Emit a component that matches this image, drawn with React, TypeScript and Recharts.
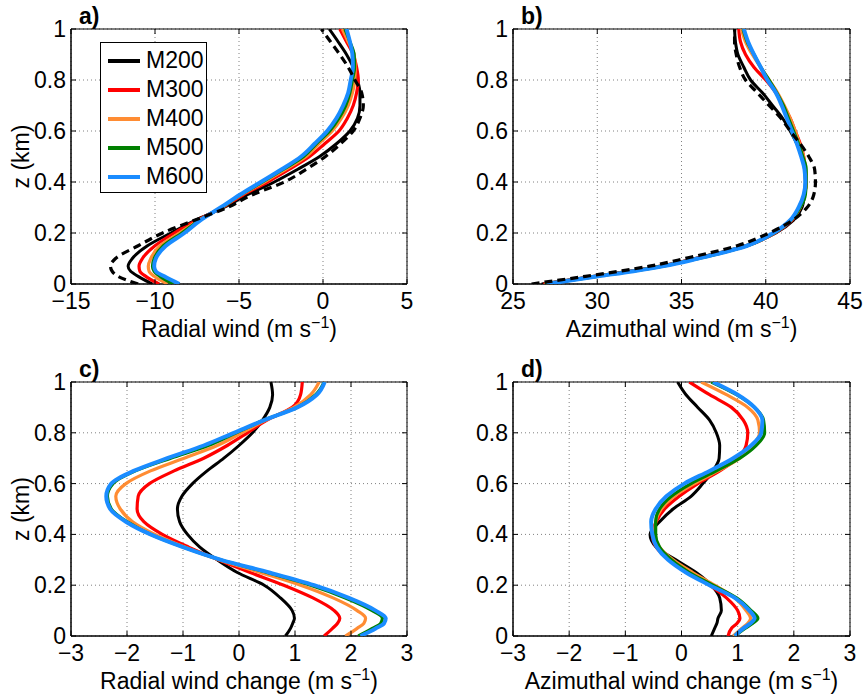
import React from 'react';
import { ScatterChart, Scatter, XAxis, YAxis, CartesianGrid, Legend, ReferenceArea } from 'recharts';

// heights (km) shared by every profile
const Z = [0, 0.03, 0.05, 0.07, 0.1, 0.15, 0.2, 0.25, 0.3, 0.35, 0.4, 0.45, 0.5, 0.55, 0.6, 0.65, 0.7, 0.75, 0.8, 0.85, 0.9, 0.95, 1];

const SERIES_NAMES = ['M200', 'M300', 'M400', 'M500', 'M600'];
const SERIES_COLORS = ['#000000', '#ff0000', '#ff8c33', '#008000', '#1a8cff'];
const SERIES_WIDTHS = [3, 3.2, 3.2, 3.2, 4];

// a) radial wind
const radialCtl = [-11.0, -12.2, -12.55, -12.65, -12.35, -11.0, -9.55, -7.65, -5.7, -4.2, -2.3, -1.0, 0.15, 1.05, 1.8, 2.2, 2.4, 2.3, 1.9, 1.5, 1.0, 0.45, -0.1];
const radialM200 = [-10.15, -11.0, -11.45, -11.6, -11.35, -10.45, -9.05, -7.6, -5.9, -4.5, -2.9, -1.5, -0.2, 0.8, 1.6, 2.05, 2.2, 2.2, 2.05, 1.8, 1.4, 0.9, 0.37];
const radialM300 = [-9.75, -10.55, -10.9, -10.95, -10.75, -10.0, -8.85, -7.5, -6.0, -4.75, -3.3, -2.0, -0.8, 0.1, 0.95, 1.45, 1.8, 2.0, 2.1, 2.0, 1.8, 1.4, 1.0];
const radialM400 = [-9.25, -10.05, -10.35, -10.4, -10.25, -9.7, -8.55, -7.4, -6.05, -4.85, -3.5, -2.2, -1.0, -0.25, 0.55, 1.1, 1.5, 1.75, 1.9, 1.92, 1.85, 1.5, 1.15];
const radialM500 = [-8.9, -9.7, -10.05, -10.15, -10.05, -9.5, -8.4, -7.35, -6.05, -4.9, -3.6, -2.35, -1.15, -0.4, 0.4, 0.95, 1.35, 1.6, 1.75, 1.88, 1.85, 1.6, 1.3];
const radialM600 = [-8.55, -9.45, -9.95, -10.05, -9.95, -9.35, -8.25, -7.3, -6.1, -4.95, -3.7, -2.45, -1.3, -0.5, 0.25, 0.8, 1.2, 1.5, 1.65, 1.78, 1.75, 1.6, 1.4];

// b) azimuthal wind
const azimCtl = [26.1, 29.3, 31.3, 33.1, 35.2, 38.3, 40.2, 41.6, 42.45, 42.85, 42.95, 42.9, 42.55, 42.05, 41.45, 40.9, 40.2, 39.5, 38.8, 38.45, 38.25, 38.15, 38.15];
const azimM200 = [26.7, 29.8, 31.9, 33.7, 35.8, 38.8, 40.6, 41.65, 42.15, 42.3, 42.35, 42.3, 42.2, 41.85, 41.45, 41.0, 40.4, 39.8, 39.1, 38.7, 38.35, 38.2, 38.15];
const azimM300 = [26.8, 29.9, 32.0, 33.8, 35.9, 38.9, 40.55, 41.55, 42.05, 42.3, 42.4, 42.35, 42.25, 42.05, 41.75, 41.45, 41.05, 40.6, 40.0, 39.3, 38.8, 38.5, 38.4];
const azimM400 = [26.85, 29.95, 32.05, 33.85, 35.95, 38.9, 40.5, 41.5, 42.05, 42.3, 42.4, 42.35, 42.25, 42.0, 41.75, 41.45, 41.1, 40.7, 40.2, 39.7, 39.2, 38.8, 38.55];
const azimM500 = [26.9, 30.0, 32.1, 33.9, 36.0, 38.9, 40.5, 41.5, 42.05, 42.35, 42.4, 42.4, 42.2, 41.95, 41.65, 41.35, 41.05, 40.65, 40.2, 39.7, 39.3, 38.9, 38.65];
const azimM600 = [27.0, 30.05, 32.15, 33.95, 36.0, 38.9, 40.45, 41.45, 41.95, 42.25, 42.35, 42.3, 42.1, 41.85, 41.55, 41.25, 40.95, 40.6, 40.1, 39.7, 39.3, 38.95, 38.7];

// c) radial wind change
const dRadM200 = [0.83, 0.92, 0.96, 0.99, 0.95, 0.74, 0.45, -0.03, -0.39, -0.7, -0.92, -1.06, -1.1, -1.02, -0.83, -0.57, -0.27, 0.0, 0.24, 0.42, 0.55, 0.6, 0.57];
const dRadM300 = [1.52, 1.67, 1.76, 1.8, 1.7, 1.32, 0.8, 0.2, -0.37, -0.9, -1.37, -1.7, -1.82, -1.8, -1.6, -1.16, -0.63, -0.21, 0.15, 0.5, 0.95, 1.1, 1.13];
const dRadM400 = [1.9, 2.11, 2.23, 2.26, 2.11, 1.68, 1.1, 0.38, -0.36, -0.97, -1.5, -1.9, -2.12, -2.2, -2.02, -1.58, -0.98, -0.39, 0.05, 0.48, 0.98, 1.28, 1.43];
const dRadM500 = [2.13, 2.38, 2.53, 2.56, 2.38, 1.9, 1.28, 0.5, -0.33, -1.0, -1.58, -2.0, -2.28, -2.35, -2.25, -1.85, -1.22, -0.55, -0.05, 0.45, 1.04, 1.37, 1.52];
const dRadM600 = [2.17, 2.44, 2.59, 2.62, 2.44, 1.96, 1.34, 0.54, -0.32, -1.0, -1.58, -2.02, -2.3, -2.37, -2.28, -1.88, -1.28, -0.63, -0.09, 0.45, 1.04, 1.39, 1.53];

// d) azimuthal wind change
const dAzM200 = [0.53, 0.59, 0.63, 0.65, 0.71, 0.68, 0.53, 0.26, -0.1, -0.45, -0.56, -0.39, -0.15, 0.17, 0.38, 0.56, 0.67, 0.68, 0.62, 0.5, 0.29, 0.08, -0.07];
const dAzM300 = [0.83, 0.89, 0.99, 1.04, 1.0, 0.8, 0.5, 0.14, -0.21, -0.45, -0.52, -0.45, -0.3, -0.04, 0.29, 0.68, 1.0, 1.15, 1.18, 1.1, 0.89, 0.5, 0.14];
const dAzM400 = [0.92, 1.07, 1.18, 1.23, 1.15, 0.95, 0.59, 0.2, -0.15, -0.39, -0.48, -0.46, -0.36, -0.13, 0.23, 0.65, 1.04, 1.27, 1.39, 1.36, 1.18, 0.8, 0.35];
const dAzM500 = [0.95, 1.13, 1.27, 1.36, 1.24, 0.98, 0.56, 0.14, -0.18, -0.39, -0.46, -0.46, -0.39, -0.18, 0.17, 0.62, 1.04, 1.33, 1.48, 1.46, 1.3, 0.98, 0.53];
const dAzM600 = [0.95, 1.1, 1.23, 1.3, 1.21, 0.95, 0.5, 0.08, -0.24, -0.44, -0.52, -0.54, -0.46, -0.27, 0.05, 0.5, 0.92, 1.24, 1.42, 1.44, 1.3, 1.0, 0.56];

const zTicks = [0, 0.2, 0.4, 0.6, 0.8, 1];
const radialTicks = [-15, -10, -5, 0, 5];
const azimTicks = [25, 30, 35, 40, 45];
const changeTicks = [-3, -2, -1, 0, 1, 2, 3];

const FONT = '"Liberation Sans", Arial, Helvetica, sans-serif';
const FS = 23;
const TICK = 5;

const fmt = (v: number) => (v < 0 ? '\u2212' + Math.abs(v) : String(v));
const toPoints = (vals: number[]) => Z.map((z, i) => ({ x: vals[i], z }));
const NoShape = () => <g />;

type Box = { x: number; y: number; w: number; h: number };
type Profile = { vals: number[]; color: string; width: number; dash?: string };

function LegendBox() {
  return (
    <div style={{ border: '1px solid #000', background: '#fff', padding: '3px 0', boxSizing: 'border-box', width: 107, height: 151 }}>
      {SERIES_NAMES.map((name, i) => (
        <div key={name} style={{ display: 'flex', alignItems: 'center', height: 29 }}>
          <div style={{ marginLeft: 7, width: 32, height: 4, background: SERIES_COLORS[i] }} />
          <span style={{ marginLeft: 6, fontSize: FS, fontFamily: FONT, lineHeight: '29px', color: '#000' }}>{name}</span>
        </div>
      ))}
    </div>
  );
}

function Panel({ box, plot, xDomain, xTicks, xLabel, tag, yLabel, lines, legend }: {
  box: Box; plot: Box; xDomain: [number, number]; xTicks: number[]; xLabel: string;
  tag: string; yLabel?: boolean; lines: Profile[]; legend?: boolean;
}) {
  const px = plot.x - box.x;
  const py = plot.y - box.y;
  const margin = {
    top: py,
    left: px - 50,
    right: box.x + box.w - (plot.x + plot.w),
    bottom: box.y + box.h - (plot.y + plot.h) - 30,
  };
  const textProps = { fontFamily: FONT, fontSize: FS, fill: '#000' };

  // inward ticks on both the bottom and the top edge of the box
  const bottomTick = ({ x, y, payload }: any) => (
    <g>
      <line x1={x} x2={x} y1={y} y2={y - TICK} stroke="#000" />
      <line x1={x} x2={x} y1={y - plot.h} y2={y - plot.h + TICK} stroke="#000" />
      <text x={x} y={y + 25} textAnchor="middle" {...textProps}>{fmt(payload.value)}</text>
    </g>
  );
  // inward ticks on both the left and the right edge of the box
  const leftTick = ({ x, y, payload }: any) => (
    <g>
      <line x1={x} x2={x + TICK} y1={y} y2={y} stroke="#000" />
      <line x1={x + plot.w} x2={x + plot.w - TICK} y1={y} y2={y} stroke="#000" />
      <text x={x - 5} y={y + 8} textAnchor="end" {...textProps}>{fmt(payload.value)}</text>
    </g>
  );

  const xLabelContent = () => (
    <text x={px + plot.w / 2} y={py + plot.h + 53} textAnchor="middle" {...textProps}>
      {xLabel} (m s<tspan dy={-9} fontSize={16}>{'\u22121'}</tspan><tspan dy={9}>)</tspan>
    </text>
  );
  const yLabelContent = () => (
    <g>
      <text x={px + 8} y={py - 5} fontWeight="bold" {...textProps}>{tag}</text>
      {yLabel && (
        <text x={29} y={py + plot.h / 2} transform={`rotate(-90, 29, ${py + plot.h / 2})`} textAnchor="middle" {...textProps}>
          z (km)
        </text>
      )}
    </g>
  );

  return (
    <div style={{ position: 'absolute', left: box.x, top: box.y }}>
      <ScatterChart width={box.w} height={box.h} margin={margin}>
        <CartesianGrid stroke="#808080" strokeWidth={1} strokeDasharray="1 3" horizontalValues={zTicks} verticalValues={xTicks} />
        <XAxis type="number" dataKey="x" domain={xDomain} ticks={xTicks} allowDataOverflow height={30}
          tickSize={0} tickMargin={0} tickLine={false} tick={bottomTick} axisLine={{ stroke: '#000' }}
          label={xLabelContent} />
        <YAxis type="number" dataKey="z" domain={[0, 1]} ticks={zTicks} allowDataOverflow width={50}
          tickSize={0} tickMargin={0} tickLine={false} tick={leftTick} axisLine={{ stroke: '#000' }}
          label={yLabelContent} />
        {lines.map((l, i) => (
          <Scatter key={i} data={toPoints(l.vals)} fill={l.color} shape={NoShape} legendType="none"
            line={{ stroke: l.color, strokeWidth: l.width, strokeDasharray: l.dash }}
            lineJointType="monotoneY" isAnimationActive={false} />
        ))}
        <ReferenceArea x1={xDomain[0]} x2={xDomain[1]} y1={0} y2={1} fill="none" fillOpacity={0} stroke="#000" strokeWidth={1} ifOverflow="visible" />
        {legend && (
          <Legend layout="vertical" align="center" verticalAlign="middle" content={() => <LegendBox />}
            wrapperStyle={{ left: 100 - box.x, top: 42 - box.y, width: 107, height: 151 }} />
        )}
      </ScatterChart>
    </div>
  );
}

const profiles = (sets: number[][], ctl?: number[]): Profile[] => {
  const out: Profile[] = sets.map((vals, i) => ({ vals, color: SERIES_COLORS[i], width: SERIES_WIDTHS[i] }));
  if (ctl) out.push({ vals: ctl, color: '#000000', width: 3.2, dash: '8 5' });
  return out;
};

export default function App() {
  return (
    <div style={{ position: 'absolute', left: 0, top: 0, width: 863, height: 695, background: '#fff', fontFamily: FONT }}>
      <Panel box={{ x: 0, y: 0, w: 431, h: 345 }} plot={{ x: 71, y: 29, w: 336, h: 255 }}
        xDomain={[-15, 5]} xTicks={radialTicks} xLabel="Radial wind" tag="a)" yLabel legend
        lines={profiles([radialM200, radialM300, radialM400, radialM500, radialM600], radialCtl)} />
      <Panel box={{ x: 431, y: 0, w: 432, h: 345 }} plot={{ x: 513, y: 29, w: 337, h: 255 }}
        xDomain={[25, 45]} xTicks={azimTicks} xLabel="Azimuthal wind" tag="b)"
        lines={profiles([azimM200, azimM300, azimM400, azimM500, azimM600], azimCtl)} />
      <Panel box={{ x: 0, y: 345, w: 431, h: 350 }} plot={{ x: 71, y: 382, w: 336, h: 254 }}
        xDomain={[-3, 3]} xTicks={changeTicks} xLabel="Radial wind change" tag="c)" yLabel
        lines={profiles([dRadM200, dRadM300, dRadM400, dRadM500, dRadM600])} />
      <Panel box={{ x: 431, y: 345, w: 432, h: 350 }} plot={{ x: 513, y: 382, w: 337, h: 254 }}
        xDomain={[-3, 3]} xTicks={changeTicks} xLabel="Azimuthal wind change" tag="d)"
        lines={profiles([dAzM200, dAzM300, dAzM400, dAzM500, dAzM600])} />
    </div>
  );
}
